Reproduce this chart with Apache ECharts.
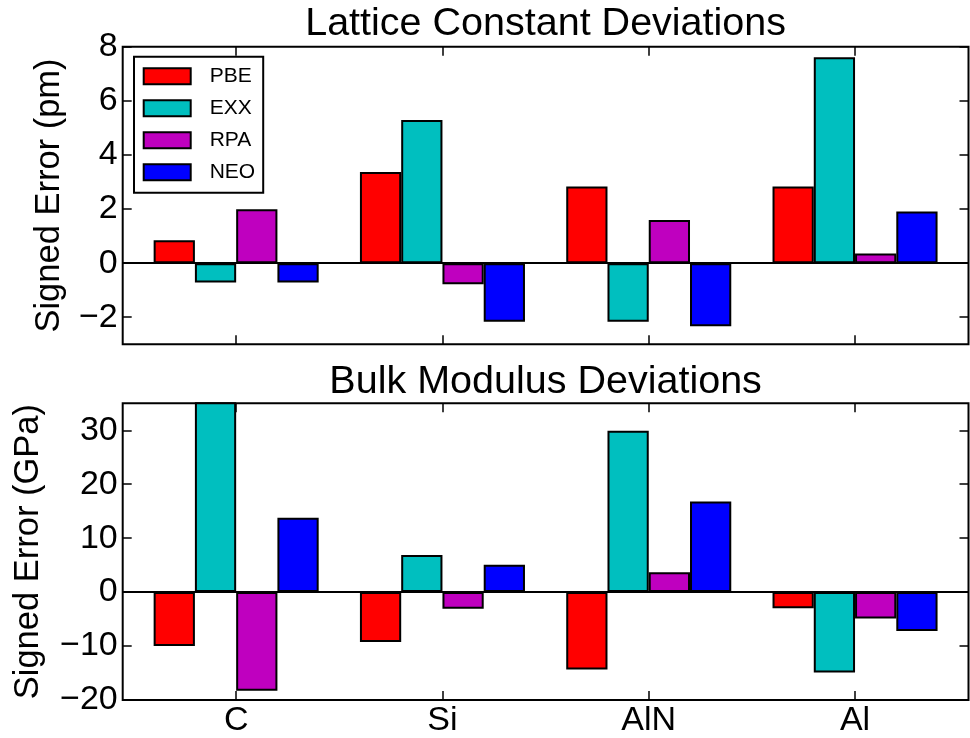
<!DOCTYPE html>
<html>
<head>
<meta charset="utf-8">
<script src="https://cdn.jsdelivr.net/npm/echarts@6/dist/echarts.min.js"></script>
<style>
html,body{margin:0;padding:0;background:#fff;}
#chart{width:970px;height:738px;}
</style>
</head>
<body>
<div id="chart"></div>
<script>
var categories = ['C', 'Si', 'AlN', 'Al'];
var seriesNames = ['PBE', 'EXX', 'RPA', 'NEO'];
var seriesColors = ['#ff0000', '#00bfbf', '#bf00bf', '#0000ff'];

var latPBE = [0.85, 3.37, 2.83, 2.83];
var latEXX = [-0.72, 5.29, -2.17, 7.61];
var latRPA = [1.99, -0.78, 1.59, 0.36];
var latNEO = [-0.72, -2.17, -2.33, 1.91];

var bulkPBE = [-10.0, -9.25, -14.35, -3.0];
var bulkEXX = [40.0, 6.9, 29.9, -14.9];
var bulkRPA = [-18.3, -3.1, 3.7, -4.9];
var bulkNEO = [13.8, 5.05, 16.8, -7.2];

var latTicks = [-2, 0, 2, 4, 6, 8];
var bulkTicks = [-20, -10, 0, 10, 20, 30];
var catTicks = [0, 1, 2, 3];

var FONT = 'Liberation Sans, Arial, Helvetica, sans-serif';
var latSets = [latPBE, latEXX, latRPA, latNEO];
var bulkSets = [bulkPBE, bulkEXX, bulkRPA, bulkNEO];

function minusFmt(v) { return String(v).replace('-', '\u2212'); }

var grids = [
  {left: 122.7, top: 46.7, width: 845.8, height: 297.6, show: true, borderColor: '#000', borderWidth: 2, backgroundColor: '#fff'},
  {left: 122.7, top: 403.3, width: 845.8, height: 297.4, show: true, borderColor: '#000', borderWidth: 2, backgroundColor: '#fff'}
];

function xAx(gi, pos, showLabel) {
  return {
    type: 'value', gridIndex: gi, position: pos, min: -0.55, max: 3.55,
    axisLine: {show: false, onZero: false},
    splitLine: {show: false},
    axisTick: {show: true, inside: true, length: 9, customValues: catTicks, lineStyle: {color: '#000', width: 1.5}},
    axisLabel: {show: showLabel, customValues: catTicks, margin: 4, fontSize: 34, color: '#000', fontFamily: FONT,
      formatter: function (v) { return categories[Math.round(v)]; }}
  };
}
function yAx(gi, pos, min, max, ticks, showLabel, name, gap) {
  return {
    type: 'value', gridIndex: gi, position: pos, min: min, max: max,
    name: showLabel ? name : '', nameLocation: 'middle', nameGap: gap, nameRotate: 90,
    nameTextStyle: {fontSize: 34.5, color: '#000', fontFamily: FONT},
    axisLine: {show: false, onZero: false},
    splitLine: {show: false},
    axisTick: {show: true, inside: true, length: 9, customValues: ticks, lineStyle: {color: '#000', width: 1.5}},
    axisLabel: {show: showLabel, customValues: ticks, margin: 5, fontSize: 34, color: '#000', fontFamily: FONT, formatter: minusFmt}
  };
}

var xAxes = [xAx(0, 'bottom', false), xAx(0, 'top', false), xAx(1, 'bottom', true), xAx(1, 'top', false)];
var yAxes = [
  yAx(0, 'left', -3, 8, latTicks, true, 'Signed Error (pm)', 56),
  yAx(0, 'right', -3, 8, latTicks, false, '', 0),
  yAx(1, 'left', -20, 35, bulkTicks, true, 'Signed Error (GPa)', 77),
  yAx(1, 'right', -20, 35, bulkTicks, false, '', 0)
];

var series = [];
function addSeries(sets, xi, yi) {
  for (var s = 0; s < sets.length; s++) {
    var d = [];
    for (var i = 0; i < categories.length; i++) d.push([i, sets[s][i]]);
    var ser = {
      type: 'bar', name: seriesNames[s], xAxisIndex: xi, yAxisIndex: yi, data: d,
      barGap: '0%', barCategoryGap: '20%', clip: true,
      itemStyle: {color: seriesColors[s], borderColor: '#000', borderWidth: 2},
      emphasis: {disabled: true}, animation: false
    };
    if (s === 0) {
      ser.markLine = {silent: true, symbol: 'none', label: {show: false},
        lineStyle: {color: '#000', width: 2, type: 'solid'}, data: [{yAxis: 0}], animation: false};
    }
    series.push(ser);
  }
}
addSeries(latSets, 0, 0);
addSeries(bulkSets, 2, 2);

var chart = echarts.init(document.getElementById('chart'), null, {renderer: 'canvas'});
chart.setOption({
  animation: false,
  backgroundColor: '#fff',
  grid: grids,
  xAxis: xAxes,
  yAxis: yAxes,
  legend: {
    data: seriesNames, orient: 'vertical', left: 134, top: 56.7,
    icon: 'rect', itemWidth: 47, itemHeight: 16, itemGap: 11,
    padding: [9, 8, 10, 8.7],
    backgroundColor: '#fff', borderColor: '#000', borderWidth: 2,
    itemStyle: {borderColor: '#000', borderWidth: 2},
    textStyle: {fontSize: 21, color: '#000', fontFamily: FONT, padding: [0, 0, 0, 14]},
    selectedMode: false
  },
  graphic: [
    {type: 'text', x: 545.6, y: 24.5, style: {text: 'Lattice Constant Deviations', fontSize: 39.5, fontFamily: FONT, fill: '#000', textAlign: 'center', textVerticalAlign: 'middle'}},
    {type: 'text', x: 545.6, y: 382, style: {text: 'Bulk Modulus Deviations', fontSize: 39.5, fontFamily: FONT, fill: '#000', textAlign: 'center', textVerticalAlign: 'middle'}}
  ],
  series: series
});
</script>
</body>
</html>
